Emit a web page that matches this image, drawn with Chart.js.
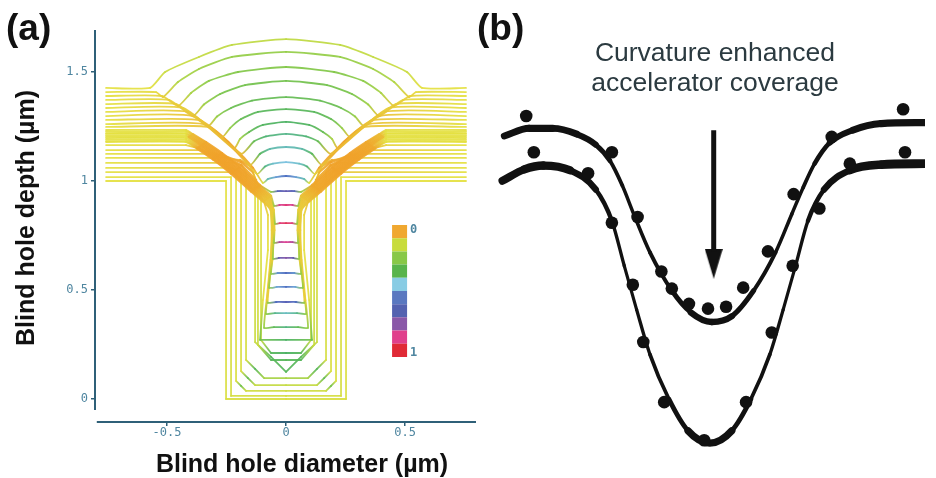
<!DOCTYPE html>
<html>
<head>
<meta charset="utf-8">
<title>Blind hole filling profiles</title>
<script src="https://cdn.jsdelivr.net/npm/chart.js@4.4.1/dist/chart.umd.min.js"></script>
<style>
  html, body { margin: 0; padding: 0; background: #fff; }
  #page { position: relative; width: 936px; height: 478px; overflow: hidden; background: #fff; }
  canvas { position: absolute; top: 0; }
  #chartA { left: 0; }
  #chartB { left: 480px; }
  .txt { position: absolute; white-space: nowrap; font-family: 'Liberation Sans', Arial, sans-serif; line-height: 1; color: #111; }
  .panel { font-size: 37px; font-weight: bold; }
  .axis-title { font-size: 25px; font-weight: bold; }
  .cb { font-family: 'DejaVu Sans Mono', monospace; font-size: 12px; font-weight: bold; color: #4f86a0; }
  .note { font-size: 26.5px; line-height: 30px; color: #2b3a40; text-align: center; width: 300px; }
</style>
</head>
<body>
<div id="page">
  <canvas id="chartA" width="480" height="478"></canvas>
  <canvas id="chartB" width="456" height="478"></canvas>
  <div class="txt panel" style="left:6px;top:9px">(a)</div>
  <div class="txt panel" style="left:477px;top:9px">(b)</div>
  <div class="txt axis-title" style="left:102px;top:451px;width:400px;text-align:center">Blind hole diameter (µm)</div>
  <div class="txt axis-title" style="left:-125px;top:203px;width:300px;height:30px;line-height:30px;text-align:center;transform:rotate(-90deg)">Blind hole depth (µm)</div>
  <div class="txt cb" style="left:410px;top:223px">0</div>
  <div class="txt cb" style="left:410px;top:346px">1</div>
  <div class="txt note" style="left:565px;top:37px">Curvature enhanced<br>accelerator coverage</div>
</div>
<script>
/* global Chart */

// ---------- panel (a): growth-front profiles, right half only (x >= 0), µm ----------
// each profile runs from the centre of the front out to the end of the field surface

// hole still open: flat / chamfered bottom, straight walls
const earlyProfiles = [
  [[0, 0], [0.252, 0], [0.252, 1.0], [0.756, 1.0]],
  [[0, 0.014], [0.231, 0.014], [0.231, 1.018], [0.756, 1.018]],
  [[0, 0.037], [0.168, 0.037], [0.189, 0.060], [0.210, 0.083], [0.210, 1.028], [0.223, 1.041], [0.756, 1.041]],
  [[0, 0.064], [0.130, 0.064], [0.160, 0.096], [0.189, 0.128], [0.189, 1.032], [0.206, 1.050], [0.231, 1.060], [0.756, 1.060]],
  [[0, 0.096], [0.092, 0.096], [0.130, 0.138], [0.168, 0.179], [0.168, 1.041], [0.185, 1.069], [0.218, 1.083], [0.756, 1.083]],
  [[0, 0.124], [0.063, 0.193], [0.130, 0.261], [0.130, 1.014], [0.151, 1.069], [0.193, 1.096], [0.261, 1.106], [0.756, 1.106]],
  [[0, 0.179], [0.063, 0.179], [0.118, 0.248], [0.118, 0.977], [0.139, 1.041], [0.189, 1.087], [0.261, 1.115], [0.336, 1.124], [0.756, 1.124]],
  [[0, 0.211], [0.063, 0.211], [0.105, 0.271], [0.105, 0.950], [0.126, 1.005], [0.189, 1.073], [0.273, 1.119], [0.357, 1.142], [0.756, 1.142]],
  [[0, 0.271], [0.109, 0.271], [0.097, 0.454], [0.076, 0.683], [0.076, 0.844], [0.092, 0.904], [0.147, 0.968], [0.231, 1.050], [0.303, 1.115], [0.370, 1.151], [0.420, 1.165], [0.756, 1.165]],
];
// accelerator coverage at each vertex (0..1)
const earlyCoverage = [
  [0.12, 0.12, 0.1, 0.1],
  [0.13, 0.13, 0.1, 0.1],
  [0.14, 0.14, 0.26, 0.12, 0.1, 0.06, 0.1],
  [0.16, 0.16, 0.28, 0.12, 0.1, 0.04, 0.07, 0.1],
  [0.2, 0.2, 0.3, 0.13, 0.1, 0.03, 0.06, 0.1],
  [0.3, 0.3, 0.15, 0.1, 0.02, 0.02, 0.07, 0.1],
  [0.3, 0.3, 0.15, 0.1, 0.02, 0, 0.02, 0.07, 0.1],
  [0.32, 0.3, 0.15, 0.1, 0.02, 0, 0.01, 0.06, 0.1],
  [0.32, 0.26, 0.1, 0.1, 0.08, 0.04, 0, 0, 0, 0.03, 0.08, 0.1],
];

// bottom-up fill: fronts climb the neck, walls follow the neck / shoulder band
const neckX = [0.088, 0.071, 0.055, 0.050, 0.055];
const neckY = [0.294, 0.454, 0.638, 0.775, 0.867];
const shoulderX = [0.076, 0.126, 0.210, 0.286, 0.353, 0.408, 0.462];
const shoulderY = [0.922, 0.968, 1.050, 1.115, 1.165, 1.202, 1.234];
const shoulderCov = [0.05, 0.01, 0, 0, 0.01, 0.04, 0.07];
const bandFrontY = [0.330, 0.394, 0.445, 0.514, 0.578, 0.647, 0.720, 0.807, 0.890, 0.954];
const bandFrontHalfWidth = [0.092, 0.084, 0.076, 0.071, 0.063, 0.055, 0.050, 0.046, 0.050, 0.063];
const bandFrontCov = [0.35, 0.42, 0.62, 0.55, 0.57, 0.72, 0.85, 0.95, 0.9, 0.66];
const bandFieldY = [1.179, 1.183, 1.190, 1.197, 1.202, 1.209, 1.216, 1.220, 1.227, 1.234];
const bandOffset = [0.021, 0.017, 0.013, 0.008, 0.004, 0, -0.004, -0.008, -0.013, -0.017];
const bandJoinX = 0.42;
const fieldEdge = 0.756;

// overfill: fronts bulge above the field as arcs
const lateProfiles = [
  [[0, 1.023], [0.042, 1.018], [0.076, 1.009], [0.097, 0.991], [0.139, 1.060], [0.218, 1.151], [0.324, 1.248], [0.756, 1.248]],
  [[0, 1.087], [0.055, 1.080], [0.088, 1.067], [0.122, 1.032], [0.189, 1.115], [0.345, 1.261], [0.756, 1.261]],
  [[0, 1.156], [0.067, 1.147], [0.109, 1.125], [0.151, 1.073], [0.244, 1.179], [0.366, 1.280], [0.756, 1.280]],
  [[0, 1.216], [0.084, 1.205], [0.134, 1.182], [0.189, 1.124], [0.391, 1.298], [0.756, 1.298]],
  [[0, 1.271], [0.097, 1.257], [0.155, 1.225], [0.193, 1.193], [0.218, 1.151], [0.412, 1.317], [0.756, 1.317]],
  [[0, 1.330], [0.118, 1.317], [0.189, 1.284], [0.235, 1.243], [0.269, 1.202], [0.433, 1.335], [0.756, 1.335]],
  [[0, 1.385], [0.143, 1.369], [0.231, 1.335], [0.290, 1.296], [0.328, 1.252], [0.462, 1.353], [0.756, 1.353]],
  [[0, 1.459], [0.172, 1.440], [0.277, 1.399], [0.345, 1.351], [0.391, 1.298], [0.492, 1.372], [0.756, 1.372]],
  [[0, 1.523], [0.202, 1.500], [0.324, 1.459], [0.399, 1.404], [0.454, 1.344], [0.521, 1.390], [0.756, 1.390]],
  [[0, 1.592], [0.227, 1.569], [0.366, 1.514], [0.454, 1.454], [0.517, 1.385], [0.546, 1.408], [0.756, 1.408]],
  [[0, 1.651], [0.227, 1.624], [0.366, 1.569], [0.508, 1.500], [0.571, 1.427], [0.756, 1.427]],
];
const lateCoverage = [
  [0.55, 0.5, 0.4, 0.12, 0, 0, 0.05, 0.1],
  [0.46, 0.43, 0.35, 0.08, 0, 0.05, 0.1],
  [0.41, 0.39, 0.3, 0.05, 0, 0.05, 0.1],
  [0.36, 0.34, 0.28, 0.04, 0.05, 0.1],
  [0.32, 0.31, 0.28, 0.2, 0.03, 0.06, 0.1],
  [0.3, 0.3, 0.28, 0.22, 0.04, 0.07, 0.1],
  [0.28, 0.28, 0.27, 0.22, 0.05, 0.08, 0.1],
  [0.26, 0.26, 0.25, 0.21, 0.05, 0.08, 0.1],
  [0.24, 0.24, 0.23, 0.2, 0.06, 0.08, 0.1],
  [0.22, 0.22, 0.21, 0.19, 0.07, 0.09, 0.1],
  [0.17, 0.17, 0.16, 0.15, 0.1, 0.1],
];

const xTicks = [-0.5, 0, 0.5];
const yTicks = [0, 0.5, 1, 1.5];

// colour bar: coverage levels 0 (top) .. 1 (bottom)
const cbLevels = [0, 0.1, 0.2, 0.3, 0.4, 0.5, 0.6, 0.7, 0.8, 0.9, 1];
const cbColors = ['#f0a830', '#c8dc3c', '#88c848', '#58b44c', '#88cce4', '#5a78c0', '#5462b0', '#8a58a8', '#e0408c', '#e02a36'];

// ---------- panel (b): coverage profiles (arbitrary units, y up) ----------
const upperCurveX = [14, 40, 65, 90, 110, 125, 138, 150, 167, 190, 210, 232, 253, 276, 299, 316, 328, 340, 356, 380, 410, 456];
const upperCurveY = [347, 355, 355, 349, 338, 321, 295, 265, 225, 185, 162, 152, 158, 185, 225, 265, 293, 318, 340, 353, 360, 361];
const lowerCurveX = [12, 35, 55, 83, 110, 127, 140, 153, 167, 187, 207, 230, 253, 273, 293, 307, 320, 333, 350, 377, 410, 456];
const lowerCurveY = [300, 312, 316, 311, 291, 258, 211, 165, 118, 71, 38, 25, 38, 71, 118, 165, 211, 258, 291, 311, 317, 318];
const upperDotsX = [37, 127, 154, 179, 190, 208, 228, 247, 265, 291, 318, 358, 433];
const upperDotsY = [368, 330, 262, 205, 187, 171, 166, 168, 188, 226, 286, 346, 375];
const lowerDotsX = [45, 102, 127, 149, 160, 182, 224, 268, 295, 317, 345, 377, 435];
const lowerDotsY = [330, 308, 256, 191, 131, 68, 28, 68, 141, 211, 271, 318, 330];

// ---------- styling / layout ----------
const AXIS_COLOR = '#2f6078';
const TICK_COLOR = '#4f86a0';
const INK = '#111';
const CB_X = 0.477, CB_TOP = 0.798, CB_BOTTOM = 0.193;
const Y_AXIS_END = -0.05, X_AXIS_START = -0.795;
const ARROW_X = 234, ARROW_TOP = 353, ARROW_TIP = 198, HEAD_W = 18, HEAD_H = 30;
const THIN = 2.7;

const covStops = [0, 0.1, 0.18, 0.25, 0.32, 0.4, 0.46, 0.55, 0.65, 0.75, 0.85, 1];
const covColors = ['#f0a22a', '#e4e040', '#b8d840', '#78c448', '#48b060', '#5cb8b0', '#78c0e0', '#4a6cc0', '#5a58b0', '#9050a0', '#e03c90', '#e02838'];

function hexRgb(h) {
  return [1, 3, 5].map(i => parseInt(h.slice(i, i + 2), 16));
}

function coverageColor(v) {
  let i = 0;
  while (i < covStops.length - 2 && v > covStops[i + 1]) i++;
  const t = Math.min(1, Math.max(0, (v - covStops[i]) / (covStops[i + 1] - covStops[i])));
  const a = hexRgb(covColors[i]), b = hexRgb(covColors[i + 1]);
  const c = a.map((ch, k) => Math.round(ch + (b[k] - ch) * t));
  return `rgba(${c[0]},${c[1]},${c[2]},0.92)`;
}

function bandProfile(i) {
  const o = bandOffset[i], b = bandFrontY[i], w = bandFrontHalfWidth[i], f = bandFieldY[i];
  const pts = [[0, b], [w * 0.55, b], [w, b - 0.004]];
  const cov = [bandFrontCov[i], bandFrontCov[i] - 0.06, 0.22];
  neckX.forEach((x, k) => {
    if (neckY[k] > b + 0.005) { pts.push([x + o / 2, neckY[k]]); cov.push(0.07); }
  });
  shoulderX.forEach((x, k) => {
    const y = shoulderY[k] - 0.75 * o;
    if (y > b + 0.005 && y < f - 0.003) { pts.push([x + o, y]); cov.push(shoulderCov[k]); }
  });
  pts.push([bandJoinX, f], [fieldEdge, f]);
  cov.push(0.1, 0.1);
  return { pts, cov };
}

function mirror(half) {
  return half.slice(1).reverse().map(p => ({ x: -p[0], y: p[1] }))
    .concat(half.map(p => ({ x: p[0], y: p[1] })));
}

function profileDataset(half, cov, tension) {
  const c = cov.slice(1).reverse().concat(cov);
  return {
    data: mirror(half),
    showLine: true,
    pointRadius: 0,
    borderWidth: 1.8,
    borderColor: '#e4e040',
    borderJoinStyle: 'round',
    borderCapStyle: 'round',
    tension,
    segment: {
      borderColor: ctx => {
        const g = ctx.chart.ctx.createLinearGradient(ctx.p0.x, ctx.p0.y, ctx.p1.x, ctx.p1.y);
        g.addColorStop(0, coverageColor(c[ctx.p0DataIndex]));
        g.addColorStop(1, coverageColor(c[ctx.p1DataIndex]));
        return g;
      },
      // the orange (zero coverage) shoulder strokes read a little heavier
      borderWidth: ctx => (c[ctx.p0DataIndex] < 0.06 && c[ctx.p1DataIndex] < 0.06 ? 2.4 : 1.8),
    },
  };
}

const profileSets = [];
earlyProfiles.forEach((p, i) => profileSets.push(profileDataset(p, earlyCoverage[i], 0)));
bandFrontY.forEach((_, i) => {
  const { pts, cov } = bandProfile(i);
  profileSets.push(profileDataset(pts, cov, 0.12));
});
lateProfiles.forEach((p, i) => profileSets.push(profileDataset(p, lateCoverage[i], 0.18)));

const colorBar = {
  data: cbLevels.map(l => ({ x: CB_X, y: CB_TOP - l * (CB_TOP - CB_BOTTOM) })),
  showLine: true,
  pointRadius: 0,
  borderWidth: 15,
  borderCapStyle: 'butt',
  borderColor: cbColors[0],
  segment: { borderColor: ctx => cbColors[ctx.p0DataIndex] },
};

const axisLines = {
  id: 'axisLines',
  afterDatasetsDraw(chart) {
    const { ctx, chartArea: a, scales: { x, y } } = chart;
    ctx.save();
    ctx.strokeStyle = AXIS_COLOR;
    ctx.lineWidth = 2;
    ctx.beginPath();
    ctx.moveTo(a.left, a.top);
    ctx.lineTo(a.left, y.getPixelForValue(Y_AXIS_END));
    ctx.moveTo(x.getPixelForValue(X_AXIS_START), a.bottom);
    ctx.lineTo(a.right, a.bottom);
    ctx.stroke();
    ctx.restore();
  },
};

const tickFont = { family: "'DejaVu Sans Mono', monospace", size: 12 };
const fmt = v => String(Math.round(v * 10) / 10);

new Chart(document.getElementById('chartA'), {
  type: 'scatter',
  // later datasets are drawn underneath, so reverse to keep the latest fronts on top
  data: { datasets: [colorBar].concat(profileSets.slice().reverse()) },
  options: {
    responsive: false,
    animation: false,
    events: [],
    layout: { padding: { top: 30, right: 4, left: 0, bottom: 0 } },
    plugins: { legend: { display: false }, tooltip: { enabled: false } },
    scales: {
      x: {
        type: 'linear',
        min: -0.8025,
        max: 0.798,
        afterFit: s => { s.height = 56; },
        afterBuildTicks: s => { s.ticks = xTicks.map(v => ({ value: v })); },
        border: { display: false },
        grid: { drawOnChartArea: false, drawTicks: true, tickLength: 4, color: AXIS_COLOR, lineWidth: 1.5 },
        ticks: { padding: 0, color: TICK_COLOR, font: tickFont, maxRotation: 0, callback: fmt },
      },
      y: {
        type: 'linear',
        min: -0.1055,
        max: 1.6927,
        afterFit: s => { s.width = 95; },
        afterBuildTicks: s => { s.ticks = yTicks.map(v => ({ value: v })); },
        border: { display: false },
        grid: { drawOnChartArea: false, drawTicks: true, tickLength: 4, color: AXIS_COLOR, lineWidth: 1.5 },
        ticks: { padding: 3, color: TICK_COLOR, font: tickFont, callback: fmt },
      },
    },
  },
  plugins: [axisLines],
});

// ---------- panel (b) ----------
const zip = (xs, ys) => xs.map((x, i) => ({ x, y: ys[i] }));

// pen-like stroke: heavy where the curve is flat, thin on the steep flanks
function curveDataset(xs, ys, wide) {
  const pts = zip(xs, ys);
  const vw = pts.map((p, i) => {
    const a = pts[Math.max(0, i - 1)], b = pts[Math.min(pts.length - 1, i + 1)];
    const s = Math.abs((b.y - a.y) / (b.x - a.x));
    return THIN + (wide - THIN) / (1 + s * s * 0.9);
  });
  return {
    data: pts,
    showLine: true,
    pointRadius: 0,
    borderColor: INK,
    borderWidth: wide,
    borderCapStyle: 'round',
    borderJoinStyle: 'round',
    cubicInterpolationMode: 'monotone',
    segment: { borderWidth: ctx => (vw[ctx.p0DataIndex] + vw[ctx.p1DataIndex]) / 2 },
  };
}

const head = document.createElement('canvas');
head.width = HEAD_W;
head.height = HEAD_H;
const hctx = head.getContext('2d');
hctx.fillStyle = INK;
hctx.beginPath();
hctx.moveTo(0, 0);
hctx.lineTo(HEAD_W, 0);
hctx.lineTo(HEAD_W / 2, HEAD_H);
hctx.closePath();
hctx.fill();

new Chart(document.getElementById('chartB'), {
  type: 'scatter',
  data: {
    datasets: [
      { data: zip(upperDotsX, upperDotsY), pointRadius: 6.3, backgroundColor: INK, borderWidth: 0 },
      { data: zip(lowerDotsX, lowerDotsY), pointRadius: 6.3, backgroundColor: INK, borderWidth: 0 },
      curveDataset(upperCurveX, upperCurveY, 7.2),
      curveDataset(lowerCurveX, lowerCurveY, 8.8),
      {
        data: [{ x: ARROW_X, y: ARROW_TOP }, { x: ARROW_X, y: ARROW_TIP + HEAD_H - 2 }],
        showLine: true, pointRadius: 0, borderColor: INK, borderWidth: 5, borderCapStyle: 'butt',
      },
      {
        data: [{ x: ARROW_X, y: ARROW_TIP + HEAD_H / 2 }],
        pointStyle: head, pointRadius: 10,
      },
    ],
  },
  options: {
    responsive: false,
    animation: false,
    events: [],
    layout: { padding: 0 },
    plugins: { legend: { display: false }, tooltip: { enabled: false } },
    scales: {
      x: { type: 'linear', min: 0, max: 456, display: false },
      y: { type: 'linear', min: 0, max: 478, display: false },
    },
  },
});
</script>
</body>
</html>
